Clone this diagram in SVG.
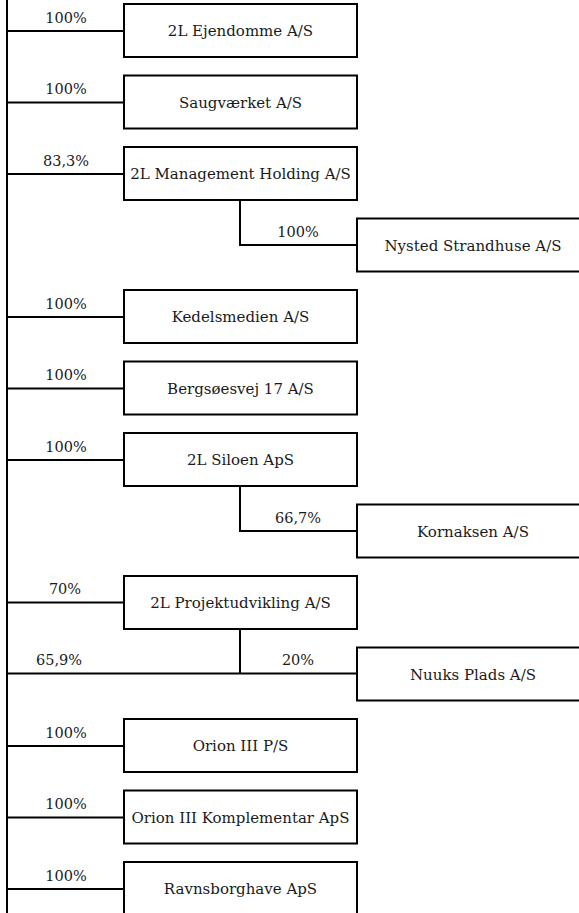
<svg xmlns="http://www.w3.org/2000/svg" width="579" height="913" viewBox="0 0 579 913">
<style>
rect.box{fill:#fff;stroke:#000;stroke-width:2}
.conn line,.conn polyline{stroke:#000;stroke-width:2;fill:none}
text{font-family:"DejaVu Serif","Liberation Serif",serif;font-size:15px;fill:#1a1a1a;text-anchor:middle}
text.pct{font-size:14.5px}
</style>
<rect width="579" height="913" fill="#fff"/>
<g id="connectors" class="conn">
<line x1="7" y1="0" x2="7" y2="913"/>
<line x1="7" y1="31" x2="124" y2="31"/>
<line x1="7" y1="102.5" x2="124" y2="102.5"/>
<line x1="7" y1="174" x2="124" y2="174"/>
<polyline points="240,200 240,245 357,245"/>
<line x1="7" y1="317" x2="124" y2="317"/>
<line x1="7" y1="388.5" x2="124" y2="388.5"/>
<line x1="7" y1="460" x2="124" y2="460"/>
<polyline points="240,486 240,531 357,531"/>
<line x1="7" y1="602.5" x2="124" y2="602.5"/>
<line x1="7" y1="673.5" x2="357" y2="673.5"/>
<line x1="240" y1="629" x2="240" y2="673.5"/>
<line x1="7" y1="746" x2="124" y2="746"/>
<line x1="7" y1="817.5" x2="124" y2="817.5"/>
<line x1="7" y1="889" x2="124" y2="889"/>
<text class="pct" x="66" y="22.5">100%</text>
<text class="pct" x="66" y="94">100%</text>
<text class="pct" x="66" y="165.5">83,3%</text>
<text class="pct" x="298" y="237">100%</text>
<text class="pct" x="66" y="308.5">100%</text>
<text class="pct" x="66" y="380">100%</text>
<text class="pct" x="66" y="451.5">100%</text>
<text class="pct" x="298" y="523">66,7%</text>
<text class="pct" x="65" y="594">70%</text>
<text class="pct" x="59" y="665">65,9%</text>
<text class="pct" x="298" y="665">20%</text>
<text class="pct" x="66" y="737.5">100%</text>
<text class="pct" x="66" y="809">100%</text>
<text class="pct" x="66" y="880.5">100%</text>
</g>
<g id="n1"><rect class="box" x="124" y="4" width="233" height="53"/><text x="240.5" y="36">2L Ejendomme A/S</text></g>
<g id="n2"><rect class="box" x="124" y="75.5" width="233" height="53"/><text x="240.5" y="107.5">Saugværket A/S</text></g>
<g id="n3"><rect class="box" x="124" y="147" width="233" height="53"/><text x="240.5" y="179">2L Management Holding A/S</text></g>
<g id="n4"><rect class="box" x="357" y="218.5" width="233" height="53"/><text x="473" y="250.5">Nysted Strandhuse A/S</text></g>
<g id="n5"><rect class="box" x="124" y="290" width="233" height="53"/><text x="240.5" y="322">Kedelsmedien A/S</text></g>
<g id="n6"><rect class="box" x="124" y="361.5" width="233" height="53"/><text x="240.5" y="393.5">Bergsøesvej 17 A/S</text></g>
<g id="n7"><rect class="box" x="124" y="433" width="233" height="53"/><text x="240.5" y="465">2L Siloen ApS</text></g>
<g id="n8"><rect class="box" x="357" y="504.5" width="233" height="53"/><text x="473" y="536.5">Kornaksen A/S</text></g>
<g id="n9"><rect class="box" x="124" y="576" width="233" height="53"/><text x="240.5" y="608">2L Projektudvikling A/S</text></g>
<g id="n10"><rect class="box" x="357" y="647.5" width="233" height="53"/><text x="473" y="679.5">Nuuks Plads A/S</text></g>
<g id="n11"><rect class="box" x="124" y="719" width="233" height="53"/><text x="240.5" y="751">Orion III P/S</text></g>
<g id="n12"><rect class="box" x="124" y="790.5" width="233" height="53"/><text x="240.5" y="822.5" textLength="218" lengthAdjust="spacingAndGlyphs">Orion III Komplementar ApS</text></g>
<g id="n13"><rect class="box" x="124" y="862" width="233" height="53"/><text x="240.5" y="894">Ravnsborghave ApS</text></g>
</svg>
